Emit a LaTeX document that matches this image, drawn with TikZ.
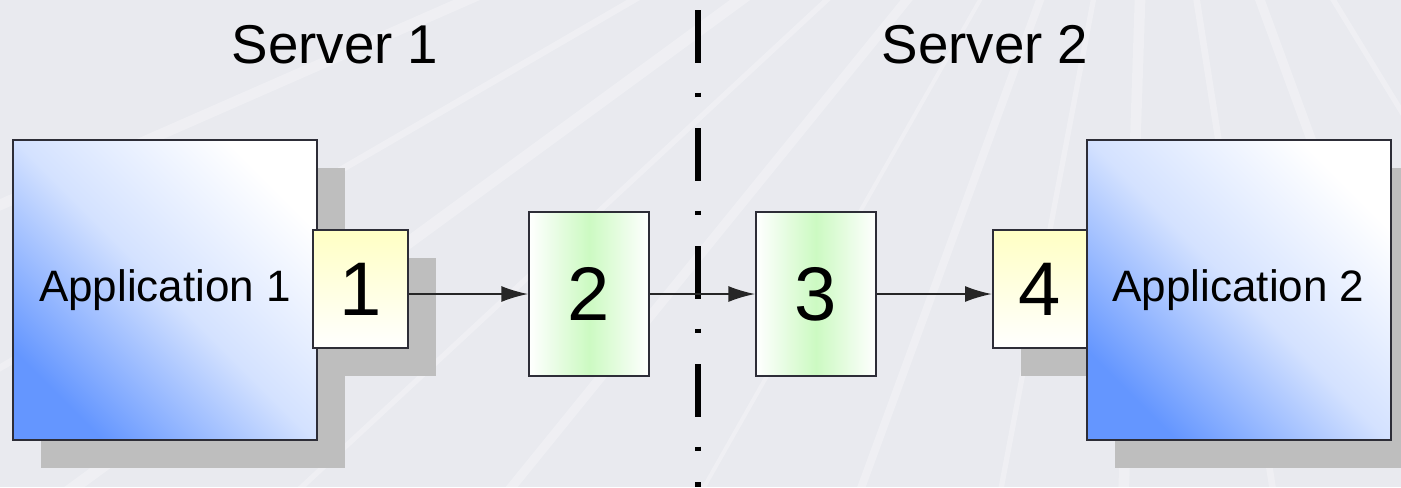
\documentclass[tikz,border=0pt]{standalone}
\usepackage{fontspec}
\setmainfont{Liberation Sans}
\usetikzlibrary{arrows.meta,shadows}
\definecolor{bgpanel}{RGB}{233,234,239}
\definecolor{appblue}{RGB}{100,150,255}
\definecolor{portyellow}{RGB}{255,255,196}
\definecolor{queuegreen}{RGB}{204,250,194}
\definecolor{shadowgray}{RGB}{190,190,190}
\definecolor{edgegray}{RGB}{45,45,55}
\tikzset{every picture/.style={line width=0.75pt}}
\tikzset{
  boxshadow/.style={general shadow={fill=shadowgray, shadow xshift=21pt, shadow yshift=-21pt}},
  appbox/.style={draw=edgegray, line width=1.5pt, inner sep=0pt,
    minimum width=228pt, minimum height=225pt,
    bottom color=appblue, top color=white, middle color=appblue!28!white,
    shading angle=-45,
    font=\fontsize{33}{40}\selectfont, boxshadow},
  portbox/.style={draw=edgegray, line width=1.5pt, inner sep=0pt,
    minimum width=71pt, minimum height=88.5pt,
    top color=portyellow, bottom color=white,
    font=\fontsize{57}{66}\selectfont, boxshadow},
  queuebox/.style={draw=edgegray, line width=1.5pt, inner sep=0pt,
    minimum width=90pt, minimum height=123pt,
    left color=white, right color=white, middle color=queuegreen,
    font=\fontsize{57}{66}\selectfont},
  flow/.style={draw=black!85, line width=1.2pt, -{Latex[length=20pt,width=12pt]}},
  servertext/.style={font=\fontsize{41}{49}\selectfont},
  divider/.style={line width=5pt, dash pattern={on 40pt off 22pt on 3pt off 23.5pt}}
}

\begin{document}
\begin{tikzpicture}[x=0.75pt,y=0.75pt,yscale=-1,xscale=1]
% panel
\fill[bgpanel] (0,0) rectangle (1401,487);
\useasboundingbox (0,0) rectangle (1401,487);
\begin{scope}
\clip (0,0) rectangle (1401,487);
\coordinate (glow) at (1150,-300);
\foreach \rx/\rw in {-900/8,-400/5,-80/9,180/4,420/7,640/3,820/6,980/4,1120/8,1290/5,1480/7,1700/4}
  \draw[white, opacity=0.28, line width=\rw pt] (glow) -- (\rx,600);
\end{scope}

% server labels
\node[servertext] (srv1) at (335,45) {Server 1};
\node[servertext] (srv2) at (985,45) {Server 2};

% boundary between the servers
\coordinate (divtop) at (698,10);
\coordinate (divbot) at (698,487);
\draw[divider] (divtop) -- (divbot);

% server 1 side
\node[appbox] (app1) at (165,290) {Application 1};
\node[portbox] (p1) at (360.5,289) {1};
\node[queuebox] (q2) at (589,294) {2};

% server 2 side
\node[queuebox] (q3) at (816,294) {3};
\node[portbox] (p4) at (1040,289) {4};
\node[appbox] (app2) at (1238.5,290) {Application 2};

% message flow
\draw[flow] (p1.east |- q2.west) -- (q2.west);
\draw[flow] (q2.east) -- (q3.west);
\draw[flow] (q3.east) -- (p4.west |- q3.east);

\end{tikzpicture}
\end{document}
